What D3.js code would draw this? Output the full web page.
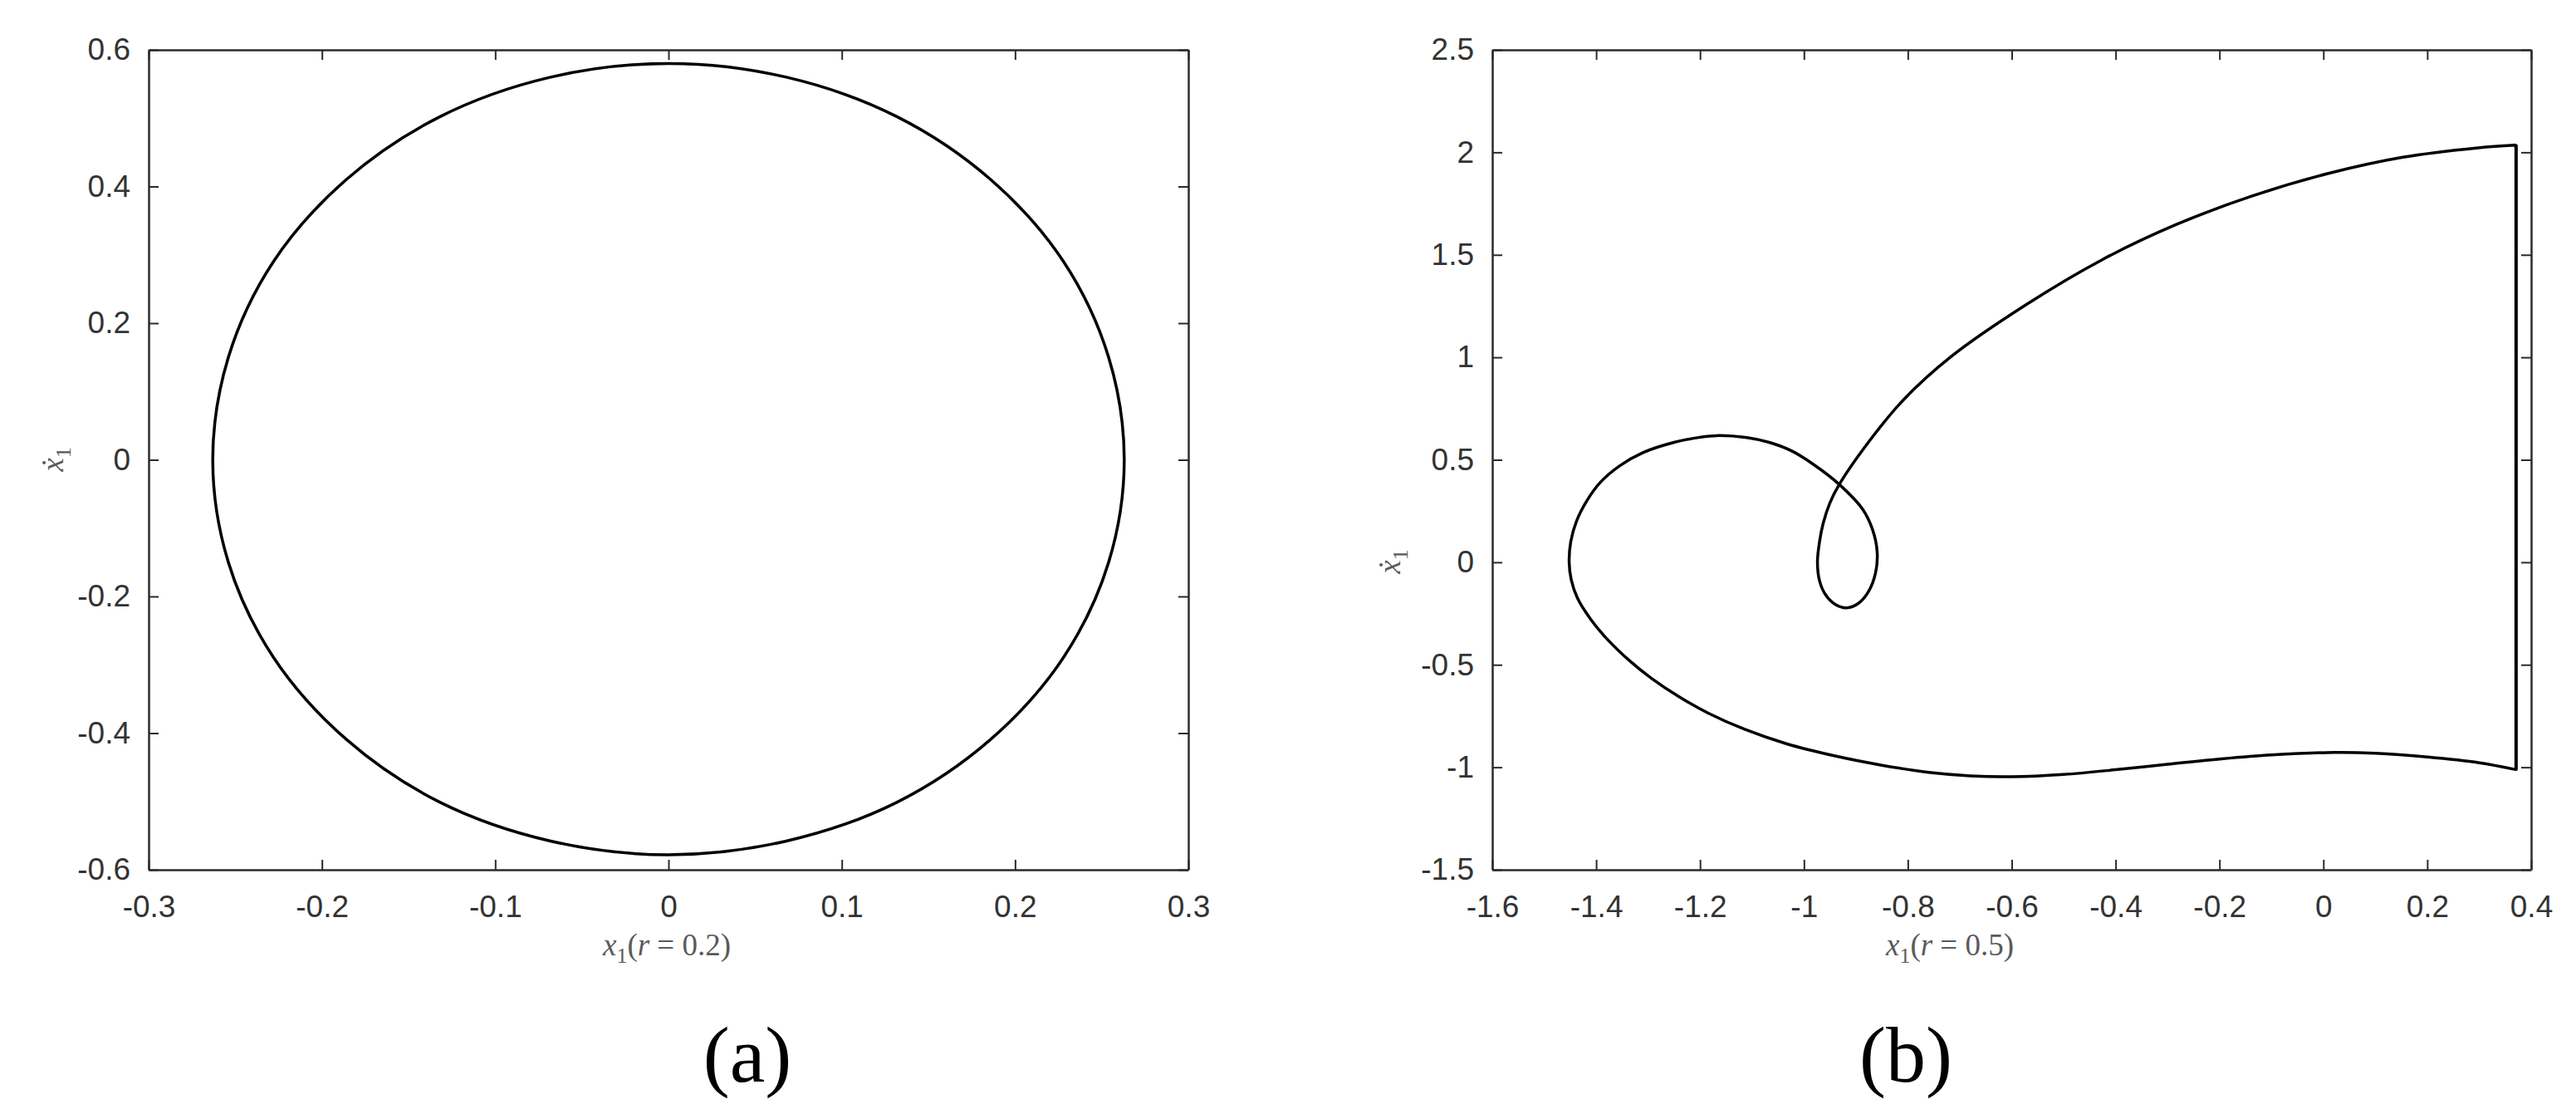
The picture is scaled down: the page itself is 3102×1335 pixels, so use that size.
<!DOCTYPE html>
<html><head><meta charset="utf-8">
<script src="https://cdn.jsdelivr.net/npm/d3@7"></script>
<style>body{margin:0;background:#fff}svg{display:block}</style>
</head><body>
<script>
// ---------- data ----------
const aXTicks = [-0.3, -0.2, -0.1, 0, 0.1, 0.2, 0.3];
const aYTicks = [-0.6, -0.4, -0.2, 0, 0.2, 0.4, 0.6];
const bXTicks = [-1.6, -1.4, -1.2, -1, -0.8, -0.6, -0.4, -0.2, 0, 0.2, 0.4];
const bYTicks = [-1.5, -1, -0.5, 0, 0.5, 1, 1.5, 2, 2.5];

// panel (a): closed orbit, r = 0.2
const aX = [0, 0.068, 0.132, 0.186, 0.228, 0.254, 0.263, 0.254, 0.228, 0.186, 0.132, 0.068,
            0, -0.068, -0.132, -0.186, -0.228, -0.254, -0.263, -0.254, -0.228, -0.186, -0.132, -0.068];
const aY = [0.580, 0.560, 0.502, 0.410, 0.290, 0.150, 0, -0.150, -0.289, -0.409, -0.501, -0.558,
            -0.578, -0.558, -0.501, -0.409, -0.289, -0.150, 0, 0.150, 0.290, 0.410, 0.502, 0.560];

// panel (b): orbit, r = 0.5 (smooth part, from the bottom-right corner)
const bX = [0.368, 0.30, 0.20, 0.10, 0.02, -0.10, -0.20, -0.30, -0.40, -0.50, -0.60, -0.68, -0.76, -0.85,
            -0.94, -1.034, -1.114, -1.185, -1.241, -1.294, -1.338, -1.377, -1.410, -1.436, -1.448, -1.452,
            -1.449, -1.438, -1.418, -1.392, -1.355, -1.310, -1.250, -1.200, -1.168, -1.110, -1.067, -1.025, -0.983,
            -0.932, -0.887, -0.868, -0.859, -0.862, -0.875, -0.895, -0.918, -0.940, -0.958, -0.970, -0.974,
            -0.970, -0.963, -0.950, -0.932, -0.882, -0.809, -0.716, -0.571, -0.426, -0.282, -0.137, 0.008,
            0.153, 0.298, 0.368];
const bY = [-1.010, -0.978, -0.950, -0.932, -0.928, -0.940, -0.960, -0.985, -1.012, -1.035, -1.046, -1.042, -1.025, -0.990,
            -0.945, -0.885, -0.815, -0.735, -0.655, -0.565, -0.475, -0.380, -0.280, -0.175, -0.085, 0.0,
            0.100, 0.200, 0.300, 0.390, 0.470, 0.535, 0.585, 0.610, 0.618, 0.608, 0.585, 0.545, 0.480,
            0.380, 0.259, 0.160, 0.050, -0.050, -0.140, -0.200, -0.222, -0.205, -0.160, -0.090, 0.0,
            0.100, 0.190, 0.290, 0.380, 0.565, 0.791, 1.005, 1.259, 1.476, 1.649, 1.787, 1.896,
            1.976, 2.022, 2.035];
// panel (b): jump segment at the right
const bJumpX = [0.368, 0.371, 0.371];
const bJumpY = [2.035, 2.032, -1.010];

// ---------- drawing ----------
const W = 3102, H = 1335;
const svg = d3.select("body").append("svg").attr("width", W).attr("height", H)
  .style("background", "#fff");

const axisColor = "#2b2b2b";
const tickFont = "'Liberation Sans', Arial, Helvetica, sans-serif";
const mathFont = "'Liberation Serif', 'DejaVu Serif', serif";
const fmt = d => String(d);

function panel(cfg) {
  const g = svg.append("g");
  const x = d3.scaleLinear().domain(cfg.xDomain).range([cfg.left, cfg.right]);
  const y = d3.scaleLinear().domain(cfg.yDomain).range([cfg.bottom, cfg.top]);

  const styleAxis = sel => {
    sel.attr("font-family", null);
    sel.select(".domain").attr("stroke", axisColor).attr("stroke-width", 2.5);
    sel.selectAll(".tick line").attr("stroke", axisColor).attr("stroke-width", 2);
    sel.selectAll(".tick text").attr("fill", "#333").style("font-family", tickFont).style("font-size", "37px");
  };

  g.append("g").attr("transform", `translate(0,${cfg.bottom})`)
    .call(d3.axisBottom(x).tickValues(cfg.xTicks).tickFormat(fmt).tickSizeInner(-12).tickSizeOuter(0).tickPadding(31))
    .call(styleAxis);
  g.append("g").attr("transform", `translate(0,${cfg.top})`)
    .call(d3.axisTop(x).tickValues(cfg.xTicks).tickFormat("").tickSizeInner(-12).tickSizeOuter(0))
    .call(styleAxis);
  g.append("g").attr("transform", `translate(${cfg.left},0)`)
    .call(d3.axisLeft(y).tickValues(cfg.yTicks).tickFormat(fmt).tickSizeInner(-12).tickSizeOuter(0).tickPadding(22))
    .call(styleAxis);
  g.append("g").attr("transform", `translate(${cfg.right},0)`)
    .call(d3.axisRight(y).tickValues(cfg.yTicks).tickFormat("").tickSizeInner(-12).tickSizeOuter(0))
    .call(styleAxis);

  // curves
  cfg.curves.forEach(c => {
    const pts = c.xs.map((v, i) => [v, c.ys[i]]);
    g.append("path").datum(pts)
      .attr("fill", "none").attr("stroke", "#000").attr("stroke-width", c.w)
      .attr("stroke-linejoin", "round").attr("stroke-linecap", "round")
      .attr("d", d3.line().x(d => x(d[0])).y(d => y(d[1])).curve(c.curve));
  });

  // x label
  const xl = g.append("text").attr("x", cfg.xLabelX).attr("y", cfg.xLabelY)
    .attr("text-anchor", "middle").attr("fill", "#5a5a5a")
    .style("font-family", mathFont).style("font-size", "37px");
  xl.append("tspan").attr("font-style", "italic").text("x");
  xl.append("tspan").attr("dy", 9).style("font-size", "26px").text("1");
  xl.append("tspan").attr("dy", -9).text("(");
  xl.append("tspan").attr("font-style", "italic").text("r");
  xl.append("tspan").text(" = " + cfg.rText + ")");

  // y label
  const yl = g.append("text")
    .attr("transform", `translate(${cfg.yLabelX},${cfg.yLabelY}) rotate(-90)`)
    .attr("text-anchor", "middle").attr("fill", "#5a5a5a")
    .style("font-family", mathFont).style("font-size", "37px");
  yl.append("tspan").attr("font-style", "italic").text("\u1E8B");
  yl.append("tspan").attr("dy", 9).style("font-size", "26px").text("1");

  // caption
  svg.append("text").attr("x", cfg.capX).attr("y", 1302).attr("text-anchor", "middle")
    .attr("fill", "#000").style("font-family", "'Liberation Serif', 'Times New Roman', serif")
    .style("font-size", "96px").text(cfg.caption);
}

panel({
  left: 179, right: 1431, top: 60, bottom: 1047,
  xDomain: [-0.3, 0.3], yDomain: [-0.6, 0.6],
  xTicks: aXTicks, yTicks: aYTicks,
  curves: [{ xs: aX, ys: aY, w: 3.5, curve: d3.curveCatmullRomClosed }],
  xLabelX: 803, xLabelY: 1150, rText: "0.2",
  yLabelX: 76, yLabelY: 553,
  caption: "(a)", capX: 900
});

panel({
  left: 1797, right: 3048, top: 60, bottom: 1047,
  xDomain: [-1.6, 0.4], yDomain: [-1.5, 2.5],
  xTicks: bXTicks, yTicks: bYTicks,
  curves: [
    { xs: bX, ys: bY, w: 3.5, curve: d3.curveCatmullRom },
    { xs: bJumpX, ys: bJumpY, w: 4, curve: d3.curveLinear }
  ],
  xLabelX: 2348, xLabelY: 1150, rText: "0.5",
  yLabelX: 1686, yLabelY: 676,
  caption: "(b)", capX: 2295
});
</script>
</body></html>
